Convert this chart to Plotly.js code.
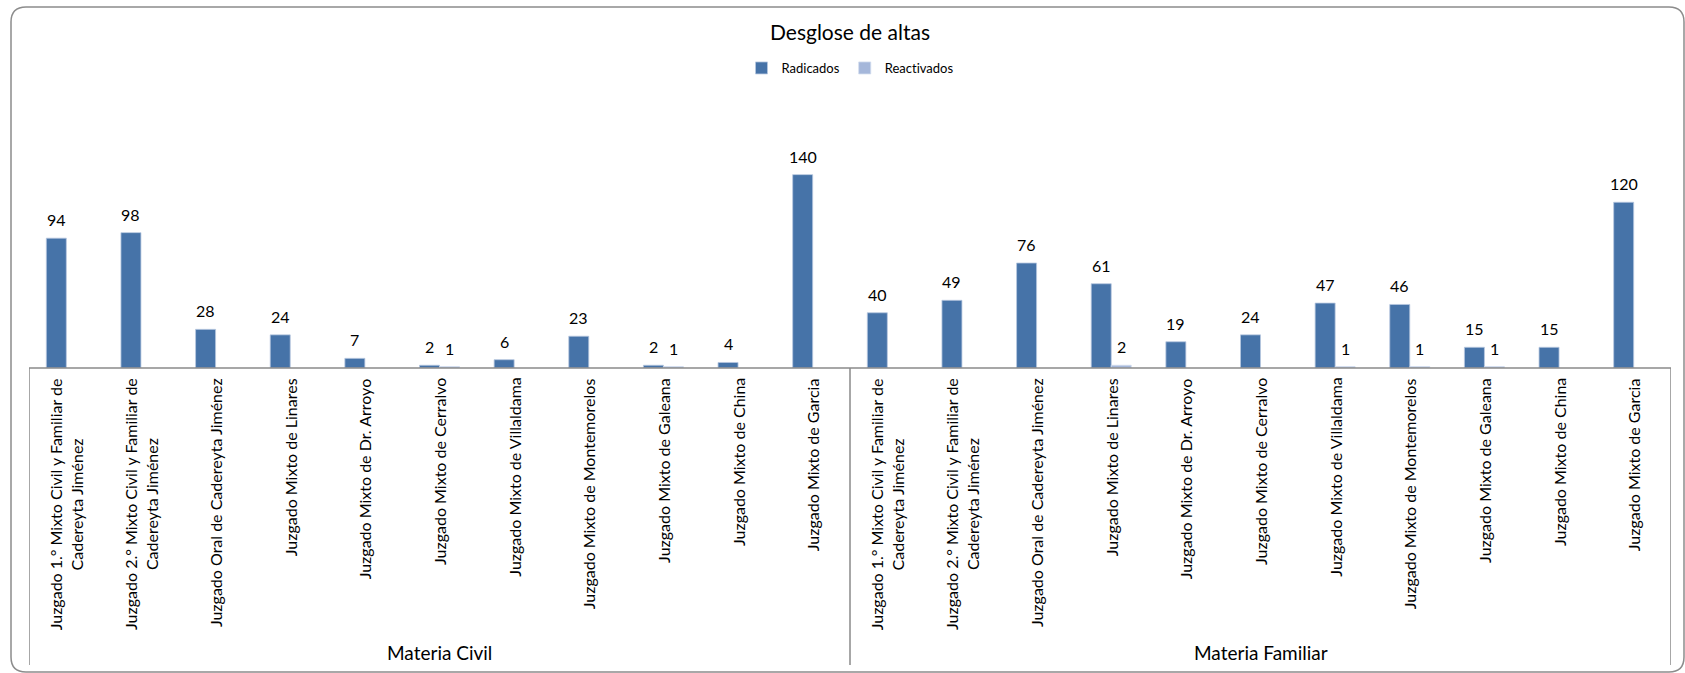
<!DOCTYPE html>
<html>
<head>
<meta charset="utf-8">
<script src="https://cdn.plot.ly/plotly-3.0.1.min.js"></script>
<style>html,body{margin:0;padding:0;background:#fff;}#chart{width:1685px;height:673px;}svg text{font-variant-ligatures:none;font-feature-settings:"liga" 0;}</style>
</head>
<body>
<div id="chart"></div>
<script>
// ---- Data ----
const groups = ["Materia Civil", "Materia Familiar"];
const civilNames = [
  "Juzgado 1.° Mixto Civil y Familiar de<br>Cadereyta Jiménez",
  "Juzgado 2.° Mixto Civil y Familiar de<br>Cadereyta Jiménez",
  "Juzgado Oral de Cadereyta Jiménez",
  "Juzgado Mixto de Linares",
  "Juzgado Mixto de Dr. Arroyo",
  "Juzgado Mixto de Cerralvo",
  "Juzgado Mixto de Villaldama",
  "Juzgado Mixto de Montemorelos",
  "Juzgado Mixto de Galeana",
  "Juzgado Mixto de China",
  "Juzgado Mixto de Garcia"
];
const familiarNames = [
  "Juzgado 1.° Mixto Civil y Familiar de<br>Cadereyta Jiménez",
  "Juzgado 2.° Mixto Civil y Familiar de<br>Cadereyta Jiménez",
  "Juzgado Oral de Cadereyta Jiménez",
  "Juzgado Mixto de Linares",
  "Juzgado Mixto de Dr. Arroyo",
  "Juzgado Mixto de Cerralvo",
  "Juzgado Mixto de Villaldama",
  "Juzgado Mixto de Montemorelos",
  "Juzgado Mixto de Galeana",
  "Juzgado Mixto de China",
  "Juzgado Mixto de Garcia"
];
const radicadosCivil    = [94, 98, 28, 24, 7, 2, 6, 23, 2, 4, 140];
const reactivadosCivil  = [null, null, null, null, null, 1, null, null, 1, null, null];
const radicadosFamiliar = [40, 49, 76, 61, 19, 24, 47, 46, 15, 15, 120];
const reactivadosFamiliar = [null, null, null, 2, null, null, 1, 1, 1, null, null];
const seriesNames = ["Radicados", "Reactivados"];
const titleText = "Desglose de altas";

// ---- Build ----
const names = civilNames.concat(familiarNames);
const xs = names.map((_, i) => i);
const radicados = radicadosCivil.concat(radicadosFamiliar);
const reactivados = reactivadosCivil.concat(reactivadosFamiliar);

const W = 1685, H = 673;
const plotL = 29, plotR = 1671, plotT = 147, plotB = 368;
const pw = plotR - plotL, ph = plotB - plotT;
const px2paperX = p => (p - plotL) / pw;
const px2paperY = p => (plotB - p) / ph;

const FONT = "Lato, 'Open Sans', sans-serif";
const lineCol = "#8a8a8a";

// bar geometry in category units
const barGap = 0.464;
const barW = (1 - barGap) / 2;
const offsets = [-barW, 0];

const seriesData = [radicados, reactivados];
const seriesColors = ["#4673A8", "#A5B7DA"];
const seriesEdge = ["#B8C8E0", "#D0DCEE"];

const traces = seriesData.map((ys, k) => ({
  type: "bar",
  name: seriesNames[k], x: xs, y: ys,
  width: barW, offset: offsets[k],
  marker: {color: seriesColors[k], line: {color: seriesEdge[k], width: 0.8}},
  hoverinfo: "skip"
}));

const annotations = [];
// data labels
seriesData.forEach((ys, k) => {
  ys.forEach((v, i) => {
    if (v === null) return;
    annotations.push({
      x: xs[i] + offsets[k] + barW / 2, xref: "x", y: v, yref: "y",
      yanchor: "bottom", xanchor: "center", yshift: 7,
      text: String(v), showarrow: false,
      font: {family: FONT, size: 16, color: "#000"}
    });
  });
});
// category labels
names.forEach((n, i) => {
  annotations.push({
    x: i, xref: "x", y: 0, yref: "paper", yshift: -8,
    text: n, textangle: -90, showarrow: false,
    xanchor: "center", yanchor: "top", align: "center",
    font: {family: FONT, size: 16, color: "#000"}
  });
});
const nCivil = civilNames.length, nFam = familiarNames.length;
[[groups[0], (nCivil - 1) / 2], [groups[1], nCivil + (nFam - 1) / 2]].forEach(([g, cx]) => {
  annotations.push({
    x: cx, xref: "x", y: px2paperY(652), yref: "paper",
    text: g, showarrow: false, xanchor: "center", yanchor: "middle",
    font: {family: FONT, size: 19, color: "#000"}
  });
});

const yBoxBottom = px2paperY(665);
const shapes = [
  {type: "line", xref: "paper", yref: "paper", x0: 0, x1: 1, y0: 0, y1: 0, line: {color: lineCol, width: 1.5}},
  {type: "line", xref: "x", yref: "paper", x0: -0.5, x1: -0.5, y0: 0, y1: yBoxBottom, line: {color: lineCol, width: 1.5}},
  {type: "line", xref: "x", yref: "paper", x0: nCivil - 0.5, x1: nCivil - 0.5, y0: 0, y1: yBoxBottom, line: {color: lineCol, width: 1.5}},
  {type: "line", xref: "x", yref: "paper", x0: nCivil + nFam - 0.5, x1: nCivil + nFam - 0.5, y0: 0, y1: yBoxBottom, line: {color: lineCol, width: 1.5}}
];
// outer rounded frame
(function () {
  const l = 11, t = 7, r = 1684, b = 672, rad = 15;
  const X = px2paperX, Y = px2paperY;
  const d = `M${X(l + rad)},${Y(t)} L${X(r - rad)},${Y(t)} Q${X(r)},${Y(t)} ${X(r)},${Y(t + rad)} ` +
            `L${X(r)},${Y(b - rad)} Q${X(r)},${Y(b)} ${X(r - rad)},${Y(b)} ` +
            `L${X(l + rad)},${Y(b)} Q${X(l)},${Y(b)} ${X(l)},${Y(b - rad)} ` +
            `L${X(l)},${Y(t + rad)} Q${X(l)},${Y(t)} ${X(l + rad)},${Y(t)} Z`;
  shapes.push({type: "path", xref: "paper", yref: "paper", path: d, line: {color: "#8c8c8c", width: 1.5}, layer: "below"});
})();

const layout = {
  width: W, height: H,
  margin: {l: plotL, r: W - plotR, t: plotT, b: H - plotB, pad: 0},
  paper_bgcolor: "#fff", plot_bgcolor: "#fff",
  barmode: "group", bargap: barGap, bargroupgap: 0,
  title: {
    text: titleText, x: 0.5, xref: "paper", xanchor: "center",
    y: 1 - 33 / H, yref: "container", yanchor: "middle",
    font: {family: FONT, size: 21, color: "#000"}
  },
  showlegend: true,
  legend: {
    orientation: "h", x: 0.5, xanchor: "center", y: px2paperY(68), yanchor: "middle",
    font: {family: FONT, size: 13, color: "#000"}, itemwidth: 30, traceorder: "normal",
    bgcolor: "rgba(0,0,0,0)"
  },
  xaxis: {
    range: [-0.5, names.length - 0.5], showticklabels: false, showgrid: false,
    zeroline: false, showline: false, ticks: "", fixedrange: true
  },
  yaxis: {
    range: [0, 160], visible: false, showgrid: false, zeroline: false, fixedrange: true
  },
  annotations: annotations,
  shapes: shapes
};

Plotly.newPlot("chart", traces, layout, {staticPlot: true, displayModeBar: false});
</script>
</body>
</html>
